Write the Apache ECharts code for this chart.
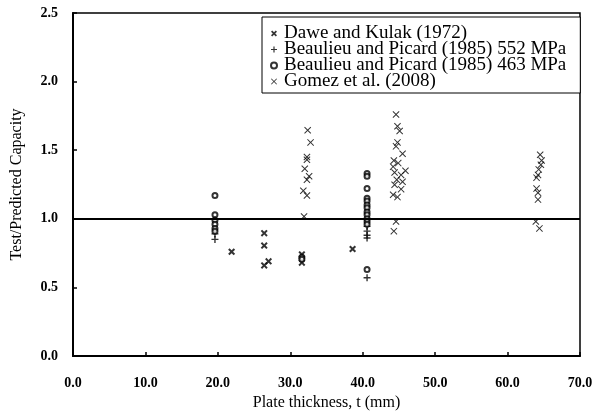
<!DOCTYPE html>
<html>
<head>
<meta charset="utf-8">
<script src="https://cdn.jsdelivr.net/npm/echarts@6/dist/echarts.min.js"></script>
<style>html,body{margin:0;padding:0;background:#fff}#c{width:598px;height:416px}</style>
</head>
<body>
<div id="c"></div>
<script>
const seriesNames = ["Dawe and Kulak (1972)", "Beaulieu and Picard (1985) 552 MPa", "Beaulieu and Picard (1985) 463 MPa", "Gomez et al. (2008)"];
const dawe = [[21.9,0.76],[26.4,0.895],[26.4,0.805],[26.4,0.66],[27.0,0.69],[31.6,0.74],[31.6,0.68],[38.6,0.78]];
const beaulieu552 = [[19.6,0.85],[19.6,0.89],[40.6,0.945],[40.6,0.91],[40.6,0.88],[40.6,0.86],[40.6,0.57]];
const beaulieu463 = [[19.6,1.17],[19.6,1.03],[19.6,0.99],[19.6,0.96],[19.6,0.93],[19.6,0.91],[31.6,0.72],[31.6,0.705],
  [40.6,1.33],[40.6,1.31],[40.6,1.22],[40.6,1.15],[40.6,1.13],[40.6,1.10],[40.6,1.08],[40.6,1.05],[40.6,1.03],[40.6,1.0],[40.6,0.98],[40.6,0.96],[40.6,0.63]];
const gomez = [[32.4,1.645],[32.8,1.557],[32.3,1.45],[32.3,1.43],[32.0,1.365],[32.6,1.31],[32.3,1.285],[31.8,1.204],[32.3,1.17],[31.9,1.017],
  [44.6,1.76],[44.8,1.675],[45.1,1.64],[44.8,1.557],[44.6,1.528],[45.5,1.474],[44.3,1.425],[44.9,1.406],[44.2,1.38],[45.9,1.35],[44.4,1.338],[45.3,1.32],[44.7,1.285],[45.5,1.27],[44.4,1.248],[45.3,1.216],[44.2,1.175],[44.8,1.158],[44.6,0.98],[44.3,0.91],
  [64.5,1.467],[64.7,1.425],[64.6,1.394],[64.3,1.36],[64.2,1.32],[64.0,1.30],[64.0,1.22],[64.2,1.19],[64.2,1.14],[63.9,0.98],[64.4,0.93]];
const referenceValue = 1.0;

const font = "'Liberation Serif', 'DejaVu Serif', serif";
const xBold = 'path://M0,2 L2,0 L5,3 L8,0 L10,2 L7,5 L10,8 L8,10 L5,7 L2,10 L0,8 L3,5 Z';
const xThin = 'path://M0,1 L1,0 L5,4 L9,0 L10,1 L6,5 L10,9 L9,10 L5,6 L1,10 L0,9 L4,5 Z';
const plus = 'path://M4,0 H6 V4 H10 V6 H6 V10 H4 V6 H0 V4 H4 Z';

const chart = echarts.init(document.getElementById('c'), null, {renderer: 'canvas'});
chart.setOption({
  animation: false,
  backgroundColor: '#fff',
  grid: {left: 73, right: 18, top: 13, bottom: 60, show: true, borderColor: '#000', borderWidth: 1.5},
  legend: {
    orient: 'vertical', left: 262, top: 17,
    backgroundColor: '#fff', borderColor: '#000', borderWidth: 1,
    padding: [7, 14, 2, 8], itemGap: -3, itemWidth: 8, itemHeight: 6,
    textStyle: {fontFamily: font, fontSize: 19, color: '#000', padding: [0, 0, 0, 1], lineHeight: 16},
    data: seriesNames.map(n => ({name: n}))
  },
  xAxis: {
    type: 'value', min: 0, max: 70, interval: 10,
    axisLine: {lineStyle: {color: '#000', width: 2}},
    axisTick: {inside: true, length: 4, lineStyle: {color: '#000', width: 1.5}},
    splitLine: {show: false},
    axisLabel: {margin: 20, fontFamily: font, fontSize: 14, fontWeight: 'bold', color: '#000', formatter: v => v.toFixed(1)},
    name: 'Plate thickness, t (mm)', nameLocation: 'middle', nameGap: 32,
    nameTextStyle: {fontFamily: font, fontSize: 16, color: '#000'}
  },
  yAxis: {
    type: 'value', min: 0, max: 2.5, interval: 0.5,
    axisLine: {show: true, lineStyle: {color: '#000', width: 2}},
    axisTick: {show: true, inside: true, length: 4, lineStyle: {color: '#000', width: 1.5}},
    splitLine: {show: false},
    axisLabel: {margin: 15, fontFamily: font, fontSize: 14, fontWeight: 'bold', color: '#000', formatter: v => v.toFixed(1)},
    name: 'Test/Predicted Capacity', nameLocation: 'middle', nameGap: 48,
    nameTextStyle: {fontFamily: font, fontSize: 16, color: '#000'}
  },
  series: [
    {name: seriesNames[0], type: 'scatter', data: dawe, symbol: xBold, symbolSize: 7, itemStyle: {color: '#000'},
     markLine: {silent: true, symbol: ['none','none'], label: {show: false}, lineStyle: {color: '#000', width: 2, type: 'solid'}, data: [{yAxis: referenceValue}]}},
    {name: seriesNames[1], type: 'scatter', data: beaulieu552, symbol: plus, symbolSize: 7, itemStyle: {color: '#000'}},
    {name: seriesNames[2], type: 'scatter', data: beaulieu463, symbol: 'emptyCircle', symbolSize: 5, itemStyle: {color: '#000', borderColor: '#000', borderWidth: 1.4}},
    {name: seriesNames[3], type: 'scatter', data: gomez, symbol: xThin, symbolSize: 7, itemStyle: {color: '#000'}}
  ]
});
</script>
</body>
</html>
